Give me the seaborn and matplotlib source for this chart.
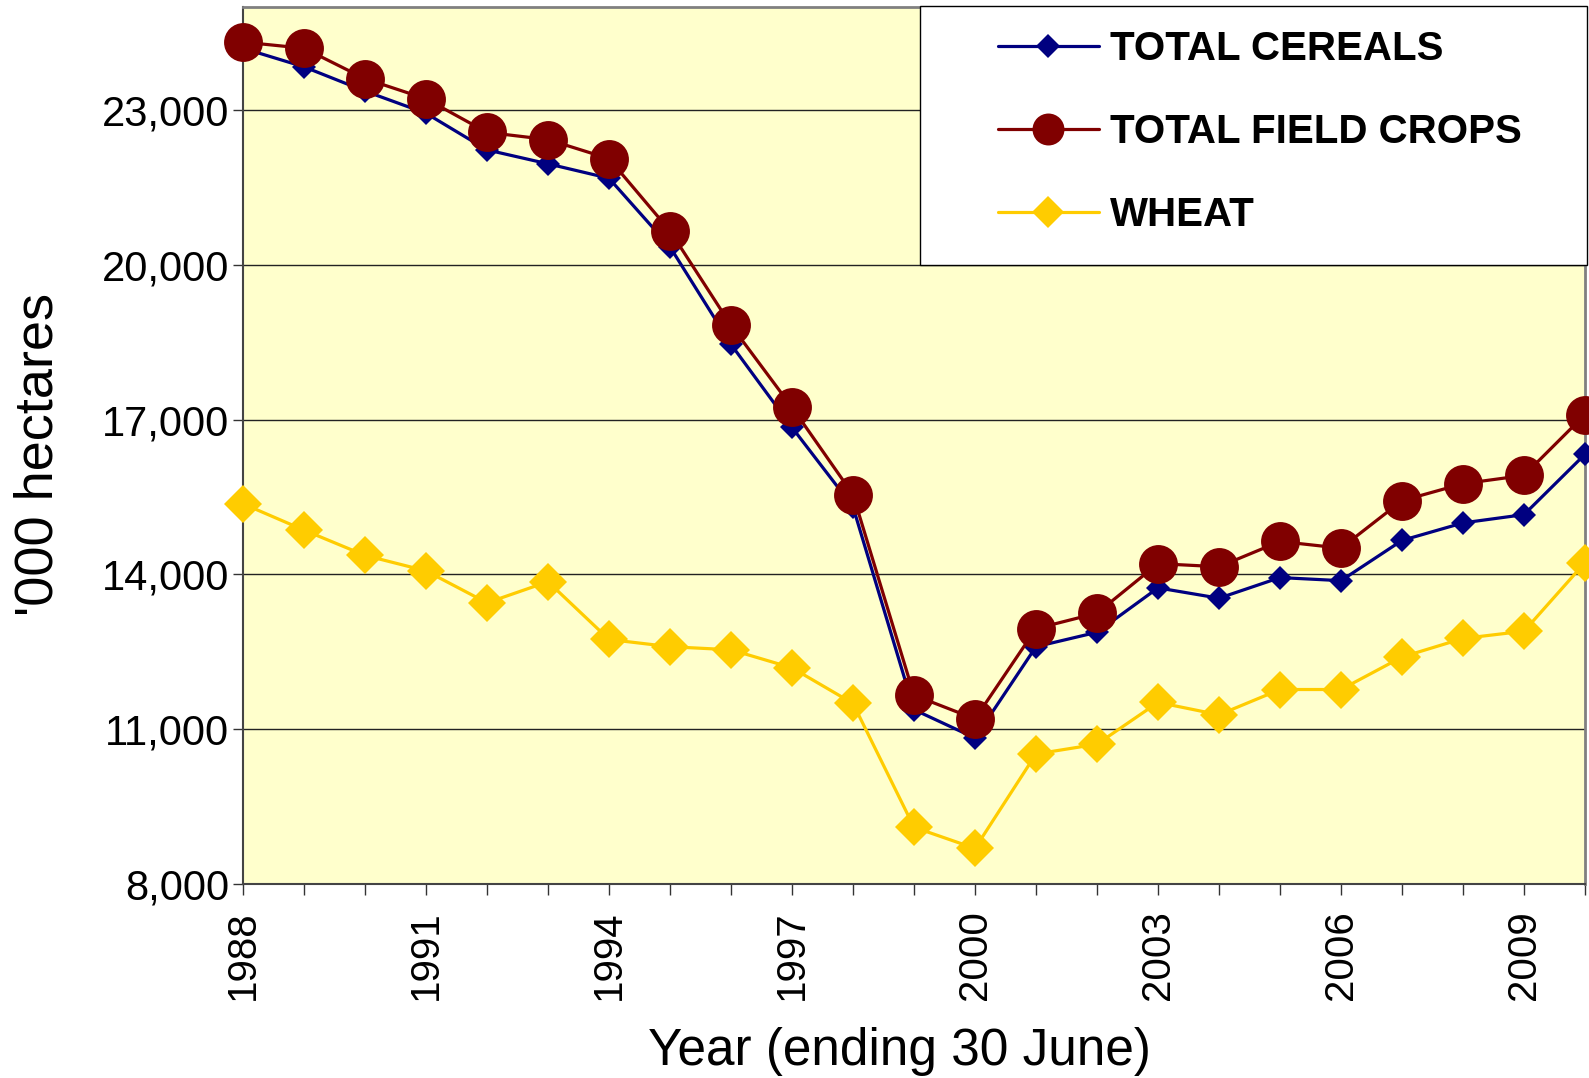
import matplotlib
matplotlib.use("Agg")
import matplotlib.pyplot as plt
from matplotlib.lines import Line2D
from matplotlib.patches import Rectangle
from matplotlib.ticker import FuncFormatter, MultipleLocator, FixedLocator
import seaborn as sns

# Datos ('000 hectareas)
years = list(range(1988, 2011))
total_cereals = [24200, 23840, 23370, 22940, 22230, 21960, 21680, 20350, 18460, 16850,
                 15310, 11380, 10830, 12600, 12880, 13740, 13540, 13940, 13880, 14660,
                 15000, 15160, 16330]
total_field_crops = [24320, 24200, 23610, 23220, 22570, 22430, 22060, 20660, 18830, 17240,
                     15550, 11660, 11200, 12950, 13250, 14210, 14150, 14640, 14510, 15430,
                     15760, 15920, 17100]
wheat = [15370, 14860, 14370, 14070, 13450, 13860, 12740, 12600, 12540, 12190,
         11500, 9100, 8690, 10520, 10710, 11520, 11280, 11770, 11770, 12400,
         12760, 12900, 14230]

labels = ["TOTAL CEREALS", "TOTAL FIELD CROPS", "WHEAT"]
navy = "#000080"
maroon = "#800000"
gold = "#FFCC00"

sns.set_theme(style="white")
plt.rcParams['font.family'] = ['Liberation Sans', 'DejaVu Sans']
plt.rcParams['text.color'] = 'black'
plt.rcParams['xtick.color'] = 'black'
plt.rcParams['ytick.color'] = 'black'

W, H = 1589, 1078
fig = plt.figure(figsize=(W / 100, H / 100), dpi=100)
ax = fig.add_axes([243 / W, 1 - 884 / H, (1585 - 243) / W, (884 - 7) / H])
ax.set_facecolor("#FFFFCC")

# Series
sns.lineplot(x=years, y=total_cereals, ax=ax, color=navy, linewidth=2.3,
             marker="D", markersize=12, markeredgewidth=0, clip_on=False, zorder=4)
sns.lineplot(x=years, y=total_field_crops, ax=ax, color=maroon, linewidth=2.3,
             marker="o", markersize=28, markeredgewidth=0, clip_on=False, zorder=5)
sns.lineplot(x=years, y=wheat, ax=ax, color=gold, linewidth=2.3,
             marker="D", markersize=19.5, markeredgewidth=0, clip_on=False, zorder=6)

# Ejes
ax.set_xlim(1988, 2010)
ax.set_ylim(8000, 25000)
ax.xaxis.set_major_locator(FixedLocator(list(range(1988, 2010, 3))))
ax.xaxis.set_minor_locator(MultipleLocator(1))
ax.yaxis.set_major_locator(FixedLocator([8000, 11000, 14000, 17000, 20000, 23000]))
ax.yaxis.set_major_formatter(FuncFormatter(lambda v, p: f"{int(v):,}"))
ax.tick_params(axis="x", which="both", direction="out", length=8, width=1,
               color="#333333", bottom=True, labelsize=29, pad=11, labelrotation=90)
ax.tick_params(axis="y", which="major", direction="out", length=7, width=1,
               color="#333333", left=True, labelsize=30, pad=3)
ax.grid(axis="y", color="#222222", linewidth=1)
ax.grid(axis="x", visible=False)
for side in ["top", "right"]:
    ax.spines[side].set_color("#808080")
    ax.spines[side].set_linewidth(2)
for side in ["left", "bottom"]:
    ax.spines[side].set_color("#444444")
    ax.spines[side].set_linewidth(1.5)

fig.text(38.5 / W, 1 - 454 / H, "'000 hectares", rotation=90, fontsize=39,
         ha="center", va="center")
fig.text(899 / W, 1 - 1051 / H, "Year (ending 30 June)", fontsize=37,
         ha="center", va="center")

# Leyenda
fig.add_artist(Rectangle((920 / W, 1 - 265 / H), (1587 - 920) / W, (265 - 6) / H,
                         transform=fig.transFigure, facecolor="white",
                         edgecolor="black", linewidth=1, zorder=8))
handles = [
    Line2D([], [], color=navy, lw=2.3, marker="D", markersize=12, markeredgewidth=0),
    Line2D([], [], color=maroon, lw=2.3, marker="o", markersize=23, markeredgewidth=0),
    Line2D([], [], color=gold, lw=2.3, marker="D", markersize=16, markeredgewidth=0),
]
leg = fig.legend(handles, labels, loc="upper left", bbox_to_anchor=(998 / W, 1 - 30 / H),
                 frameon=False, prop={"weight": "bold", "size": 29},
                 handlelength=2.5, handletextpad=0.28, labelspacing=1.12,
                 borderpad=0, borderaxespad=0)
leg.set_zorder(9)

fig.savefig("out.png", dpi=100)
